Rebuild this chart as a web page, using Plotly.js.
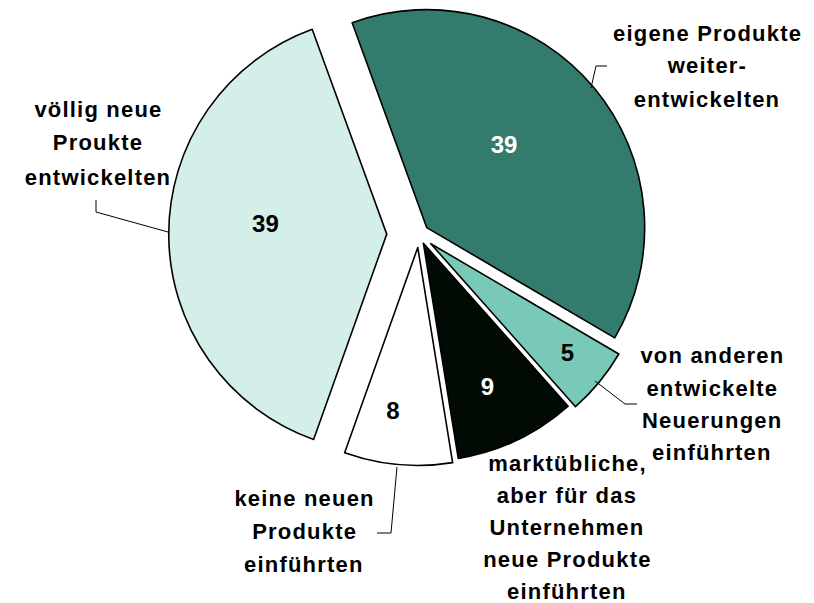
<!DOCTYPE html>
<html>
<head>
<meta charset="utf-8">
<script src="https://cdn.plot.ly/plotly-3.0.1.min.js"></script>
<style>
  html, body { margin: 0; padding: 0; background: #fff; overflow: hidden; }
  #chart { position: absolute; left: 0; top: -20px; width: 814px; height: 623px; }
  /* the original labels are set a little wide */
  #chart .annotation-text { letter-spacing: 1.2px; }
  #chart g.slicetext { transform: translate(-9px, -11px); }
</style>
</head>
<body>
<div id="chart"></div>
<script>
// Anteile der Unternehmen (Prozent)
const categories = [
  'eigene Produkte weiterentwickelten',
  'von anderen entwickelte Neuerungen einführten',
  'marktübliche, aber für das Unternehmen neue Produkte einführten',
  'keine neuen Produkte einführten',
  'völlig neue Proukte entwickelten'
];
const values = [39, 5, 9, 8, 39];
const sliceColors = ['#337b6d', '#79c9b8', '#020a04', '#ffffff', '#d4eee9'];
const valueColors = ['#ffffff', '#000000', '#ffffff', '#000000', '#000000'];

// Beschriftungen, zeilenweise
const labelLines = [
  ['eigene Produkte', 'weiter-', 'entwickelten'],
  ['von anderen', 'entwickelte', 'Neuerungen', 'einführten'],
  ['marktübliche,', 'aber für das', 'Unternehmen', 'neue Produkte', 'einführten'],
  ['keine neuen', 'Produkte', 'einführten'],
  ['völlig neue', 'Proukte', 'entwickelten']
];

const W = 814, H = 603, SHIFT = 20;   // div is moved up by SHIFT px
const HH = H + SHIFT;
function px(x, y) { return [x / W, 1 - (y + SHIFT) / HH]; }

// pie geometry (page pixels)
const cx = 419, cy = 234, R = 218;
const pulls = [0.046, 0.07, 0.047, 0.062, 0.148];
const half = R * (1 + Math.max(...pulls));

const FONT = 'Liberation Sans, Arial, sans-serif';

// label blocks: centre x, first line y, line step
const labelPos = [
  [707, 33, 33],
  [712, 356, 32],
  [567, 463, 32],
  [304, 498, 33],
  [98, 109, 34]
];

const annotations = [];
labelLines.forEach(function (lines, i) {
  lines.forEach(function (t, j) {
    const p = px(labelPos[i][0], labelPos[i][1] + j * labelPos[i][2]);
    annotations.push({
      text: t, x: p[0], y: p[1], xref: 'paper', yref: 'paper',
      xanchor: 'center', yanchor: 'middle', showarrow: false,
      font: {family: FONT, size: 22, color: '#000', weight: 'bold'}
    });
  });
});

// leader lines
const leaders = [
  [[591, 88], [596, 66], [607, 66]],
  [[595, 381], [625, 404], [637, 404]],
  [[397, 467], [391, 533], [377, 533]],
  [[168, 232], [96, 212], [96, 200]]
];
const shapes = leaders.map(function (pts) {
  const d = pts.map(function (q, k) {
    const p = px(q[0], q[1]);
    return (k ? 'L' : 'M') + p[0] + ',' + p[1];
  }).join(' ');
  return {type: 'path', xref: 'paper', yref: 'paper', path: d,
          line: {color: '#000', width: 1}};
});

const trace = {
  type: 'pie',
  labels: categories,
  values: values,
  sort: false,
  direction: 'clockwise',
  rotation: -20,
  pull: pulls,
  marker: {colors: sliceColors, line: {color: '#000', width: 1.6}},
  texttemplate: '%{value}',
  textposition: 'inside',
  insidetextorientation: 'horizontal',
  textfont: {family: FONT, size: 24, color: valueColors, weight: 'bold'},
  hoverinfo: 'label+value',
  domain: {
    x: [(cx - half) / W, (cx + half) / W],
    y: [1 - (cy + SHIFT + half) / HH, 1 - (cy + SHIFT - half) / HH]
  }
};

const layout = {
  width: W, height: HH,
  margin: {l: 0, r: 0, t: 0, b: 0},
  showlegend: false,
  paper_bgcolor: '#ffffff',
  annotations: annotations,
  shapes: shapes
};

Plotly.newPlot('chart', [trace], layout, {displayModeBar: false, staticPlot: true});
</script>
</body>
</html>
